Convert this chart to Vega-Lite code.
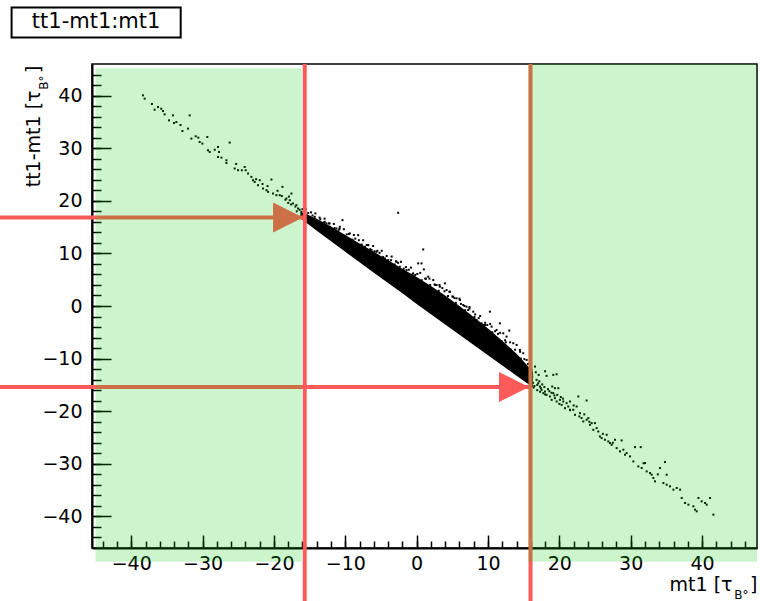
{
 "$schema": "https://vega.github.io/schema/vega-lite/v6.json",
 "width": 665,
 "height": 484,
 "autosize": {"type": "none"},
 "padding": {"left": 92, "top": 64, "right": 3, "bottom": 53},
 "background": "white",
 "config": {
  "view": {"stroke": "black", "strokeWidth": 1.5},
  "axis": {"grid": false, "labelFont": "DejaVu Sans", "labelFontSize": 19, "labelColor": "black", "titleFont": "DejaVu Sans", "titleFontWeight": "normal", "titleColor": "black", "titleFontSize": 19, "labelFlush": false, "labelOverlap": false, "tickColor": "black", "domainColor": "black"}
 },
 "datasets": {
  "core": [
   {"x": -16.3, "lo": 16.7, "hi": 17.9}, {"x": -15, "lo": 15.35, "hi": 17.2}, {"x": -14, "lo": 14.3, "hi": 16.6},
   {"x": -12, "lo": 12.3, "hi": 15.1}, {"x": -10, "lo": 10.3, "hi": 13.5}, {"x": -8, "lo": 8.3, "hi": 11.9},
   {"x": -6, "lo": 6.3, "hi": 10.3}, {"x": -4, "lo": 4.35, "hi": 8.7}, {"x": -2, "lo": 2.4, "hi": 7.1},
   {"x": 0, "lo": 0.4, "hi": 5.5}, {"x": 2, "lo": -1.55, "hi": 3.8}, {"x": 4, "lo": -3.5, "hi": 2.0},
   {"x": 6, "lo": -5.45, "hi": 0.0}, {"x": 8, "lo": -7.4, "hi": -2.1}, {"x": 10, "lo": -9.35, "hi": -4.3},
   {"x": 12, "lo": -11.3, "hi": -6.6}, {"x": 14, "lo": -13.25, "hi": -9.1}, {"x": 15.3, "lo": -14.5, "hi": -11.0},
   {"x": 16.3, "lo": -15.45, "hi": -12.5}
  ],
  "dots": [
   {"x": -38.36, "y": 40.04}, {"x": -38.12, "y": 39.41}, {"x": -36.72, "y": 37.32}, {"x": -36.25, "y": 37.82}, {"x": -35.55, "y": 37.06}, {"x": -35.32, "y": 36.43}, {"x": -34.71, "y": 35.29}, {"x": -34.15, "y": 36.24}, {"x": -34.01, "y": 34.78}, {"x": -33.68, "y": 34.97}, {"x": -31.81, "y": 36.24}, {"x": -32.83, "y": 33.26}, {"x": -32.05, "y": 33.72}, {"x": -31.57, "y": 31.82}, {"x": -30.97, "y": 32.26}, {"x": -30.41, "y": 31.18}, {"x": -30.03, "y": 30.87}, {"x": -29.24, "y": 29.6}, {"x": -29.34, "y": 32.13}, {"x": -29.0, "y": 29.28}, {"x": -27.84, "y": 30.23}, {"x": -27.7, "y": 29.28}, {"x": -27.84, "y": 28.33}, {"x": -27.36, "y": 28.21}, {"x": -26.66, "y": 27.7}, {"x": -26.2, "y": 31.06}, {"x": -26.66, "y": 27.19}, {"x": -25.5, "y": 26.13}, {"x": -25.03, "y": 25.81}, {"x": -24.1, "y": 26.43}, {"x": -23.96, "y": 25.81}, {"x": -23.63, "y": 25.18}, {"x": -23.16, "y": 24.54}, {"x": -22.93, "y": 23.91}, {"x": -22.7, "y": 23.59}, {"x": -21.99, "y": 23.91}, {"x": -22.23, "y": 22.96}, {"x": -21.53, "y": 22.33}, {"x": -21.05, "y": 22.01}, {"x": -20.35, "y": 24.04}, {"x": -20.82, "y": 21.7}, {"x": -20.13, "y": 21.38}, {"x": -19.66, "y": 21.07}, {"x": -19.19, "y": 21.07}, {"x": -18.81, "y": 22.64}, {"x": -18.25, "y": 20.43}, {"x": -17.78, "y": 20.11}, {"x": -17.55, "y": 21.38}, {"x": -17.32, "y": 19.49}, {"x": -16.85, "y": 19.17}, {"x": -16.62, "y": 18.54}, {"x": -16.15, "y": 17.91},
   {"x": -19.5, "y": 21.9}, {"x": -18.9, "y": 20.9}, {"x": -18.4, "y": 20.2}, {"x": -17.9, "y": 20.8}, {"x": -17.0, "y": 18.9}, {"x": -16.4, "y": 18.3}, {"x": -16.8, "y": 18.0}, {"x": -17.6, "y": 19.3}, {"x": -18.0, "y": 19.6}, {"x": -20.9, "y": 22.8}, {"x": -21.6, "y": 23.2}, {"x": -22.5, "y": 24.1}, {"x": -24.5, "y": 25.8}, {"x": -25.3, "y": 27.0}, {"x": -28.3, "y": 29.7}, {"x": -30.6, "y": 32.0}, {"x": -33.1, "y": 34.4}, {"x": -35.8, "y": 37.5}, {"x": -37.1, "y": 38.4},
   {"x": -15.45, "y": 17.27}, {"x": -14.98, "y": 16.64}, {"x": -14.28, "y": 16.95}, {"x": -14.04, "y": 16.0}, {"x": -12.88, "y": 16.0}, {"x": -12.64, "y": 15.69}, {"x": -12.17, "y": 15.05}, {"x": -11.24, "y": 14.74}, {"x": -10.77, "y": 15.05}, {"x": -10.4, "y": 16.32}, {"x": -9.37, "y": 13.79}, {"x": -8.2, "y": 13.47}, {"x": -7.26, "y": 11.26}, {"x": -6.8, "y": 11.57}, {"x": -6.33, "y": 10.63}, {"x": -5.63, "y": 10.31}, {"x": -4.46, "y": 9.05}, {"x": -3.99, "y": 8.73}, {"x": -2.82, "y": 8.41}, {"x": -2.59, "y": 17.71}, {"x": -2.36, "y": 7.46}, {"x": -1.42, "y": 6.83}, {"x": -0.49, "y": 6.2}, {"x": 0.21, "y": 8.1}, {"x": 0.68, "y": 8.1}, {"x": 0.92, "y": 10.75}, {"x": 1.01, "y": 6.96}, {"x": 1.62, "y": 5.57}, {"x": 2.32, "y": 4.93}, {"x": 2.79, "y": 3.98}, {"x": 3.25, "y": 3.67}, {"x": 3.96, "y": 4.3}, {"x": 4.19, "y": 3.04}, {"x": 4.66, "y": 2.72}, {"x": 5.12, "y": 1.77}, {"x": 5.59, "y": 1.46}, {"x": 6.06, "y": 1.14}, {"x": 6.53, "y": 0.19}, {"x": 6.99, "y": -0.13}, {"x": 7.23, "y": -0.76}, {"x": 7.93, "y": -1.08}, {"x": 8.4, "y": -2.66}, {"x": 9.1, "y": -3.29}, {"x": 9.57, "y": -3.61}, {"x": 10.27, "y": -1.08}, {"x": 10.5, "y": -3.92}, {"x": 11.2, "y": -4.55}, {"x": 11.67, "y": -3.29}, {"x": 12.14, "y": -5.19}, {"x": 12.98, "y": -4.68}, {"x": 12.6, "y": -5.82}, {"x": 13.54, "y": -7.08}, {"x": 14.01, "y": -7.4}, {"x": 14.47, "y": -8.35}, {"x": 14.94, "y": -8.98}, {"x": 15.41, "y": -10.25},
   {"x": -15.8, "y": 18.0}, {"x": -15.2, "y": 17.7}, {"x": -14.6, "y": 17.2}, {"x": -13.5, "y": 16.5}, {"x": -13.0, "y": 15.9}, {"x": -12.3, "y": 15.7}, {"x": -11.5, "y": 14.8}, {"x": -10.9, "y": 14.5}, {"x": -9.8, "y": 13.6}, {"x": -9.0, "y": 12.6}, {"x": -8.6, "y": 12.8}, {"x": -7.7, "y": 11.7}, {"x": -7.0, "y": 11.6}, {"x": -6.5, "y": 10.8}, {"x": -5.9, "y": 10.4}, {"x": -5.2, "y": 10.1}, {"x": -4.7, "y": 9.3}, {"x": -3.6, "y": 8.7}, {"x": -3.1, "y": 7.9}, {"x": -2.6, "y": 8.2}, {"x": -1.8, "y": 7.1}, {"x": -1.1, "y": 6.9}, {"x": -0.6, "y": 6.0}, {"x": 0.1, "y": 6.1}, {"x": 0.7, "y": 4.9}, {"x": 1.3, "y": 5.2}, {"x": 1.9, "y": 4.0}, {"x": 2.6, "y": 4.0}, {"x": 3.1, "y": 2.9}, {"x": 3.6, "y": 3.4}, {"x": 4.4, "y": 1.9}, {"x": 5.0, "y": 1.8}, {"x": 5.5, "y": 0.6}, {"x": 6.2, "y": 0.4}, {"x": 6.8, "y": -0.8}, {"x": 7.4, "y": -0.5}, {"x": 8.1, "y": -2.1}, {"x": 8.7, "y": -2.3}, {"x": 9.3, "y": -3.6}, {"x": 9.9, "y": -3.6}, {"x": 10.6, "y": -5.0}, {"x": 11.4, "y": -5.3}, {"x": 11.9, "y": -6.7}, {"x": 12.5, "y": -6.9}, {"x": 13.2, "y": -8.3}, {"x": 13.8, "y": -9.4}, {"x": 14.6, "y": -10.0}, {"x": 15.2, "y": -11.3}, {"x": 15.7, "y": -12.3}, {"x": 16.0, "y": -13.4},
   {"x": -16.0, "y": 18.4}, {"x": -15.5, "y": 18.4}, {"x": -14.8, "y": 17.8}, {"x": -14.2, "y": 17.6}, {"x": -13.6, "y": 16.8}, {"x": -12.9, "y": 16.6}, {"x": -12.2, "y": 15.7}, {"x": -11.6, "y": 15.6}, {"x": -10.8, "y": 14.7}, {"x": -10.2, "y": 14.6}, {"x": -9.5, "y": 13.7}, {"x": -8.8, "y": 13.5}, {"x": -8.1, "y": 12.5}, {"x": -7.5, "y": 12.5}, {"x": -6.8, "y": 11.6}, {"x": -6.1, "y": 11.4}, {"x": -5.5, "y": 10.5}, {"x": -4.9, "y": 10.5}, {"x": -4.2, "y": 9.5}, {"x": -3.5, "y": 9.4}, {"x": -2.9, "y": 8.5}, {"x": -2.2, "y": 8.4}, {"x": -1.5, "y": 7.4}, {"x": -0.8, "y": 7.3}, {"x": -0.2, "y": 5.9}, {"x": 0.5, "y": 6.3}, {"x": 1.2, "y": 5.2}, {"x": 1.8, "y": 5.2}, {"x": 2.5, "y": 4.1}, {"x": 3.2, "y": 4.0}, {"x": 3.9, "y": 2.8}, {"x": 4.6, "y": 2.7}, {"x": 5.3, "y": 1.5}, {"x": 6.0, "y": 1.4}, {"x": 6.7, "y": 0.0}, {"x": 7.4, "y": -0.2}, {"x": 8.2, "y": -1.6}, {"x": 8.9, "y": -1.9}, {"x": 9.6, "y": -3.2}, {"x": 10.3, "y": -3.4}, {"x": 11.0, "y": -4.8}, {"x": 11.7, "y": -5.1}, {"x": 12.4, "y": -6.5}, {"x": 13.1, "y": -6.9}, {"x": 13.8, "y": -8.3}, {"x": 14.5, "y": -8.7}, {"x": 15.1, "y": -10.1}, {"x": 15.6, "y": -11.0}, {"x": 16.1, "y": -12.1},
   {"x": 16.58, "y": -11.51}, {"x": 18.21, "y": -13.28}, {"x": 19.15, "y": -13.09}, {"x": 19.62, "y": -12.97}, {"x": 16.81, "y": -14.04}, {"x": 17.04, "y": -14.67}, {"x": 17.28, "y": -15.31}, {"x": 17.51, "y": -15.94}, {"x": 17.98, "y": -16.26}, {"x": 17.75, "y": -16.57}, {"x": 18.21, "y": -16.89}, {"x": 18.68, "y": -17.2}, {"x": 19.15, "y": -16.57}, {"x": 19.38, "y": -15.62}, {"x": 19.85, "y": -15.62}, {"x": 18.92, "y": -17.84}, {"x": 19.38, "y": -17.52}, {"x": 19.62, "y": -18.15}, {"x": 20.08, "y": -17.84}, {"x": 20.55, "y": -18.15}, {"x": 20.32, "y": -18.79}, {"x": 21.02, "y": -18.47}, {"x": 21.49, "y": -18.15}, {"x": 20.79, "y": -19.42}, {"x": 21.25, "y": -19.1}, {"x": 21.49, "y": -19.73}, {"x": 21.95, "y": -19.73}, {"x": 22.19, "y": -20.68}, {"x": 22.42, "y": -19.1}, {"x": 22.66, "y": -17.2}, {"x": 23.82, "y": -17.96}, {"x": 22.89, "y": -20.37}, {"x": 23.12, "y": -21.31}, {"x": 23.36, "y": -21.95}, {"x": 23.82, "y": -21.63}, {"x": 24.06, "y": -21.31}, {"x": 24.29, "y": -22.58}, {"x": 24.53, "y": -22.26}, {"x": 24.99, "y": -22.26}, {"x": 25.23, "y": -23.21}, {"x": 24.76, "y": -23.53}, {"x": 25.46, "y": -23.85}, {"x": 25.69, "y": -24.79}, {"x": 25.93, "y": -25.11}, {"x": 26.4, "y": -25.43}, {"x": 26.63, "y": -24.48}, {"x": 26.86, "y": -25.74}, {"x": 27.1, "y": -26.06}, {"x": 27.33, "y": -26.38}, {"x": 27.8, "y": -25.43}, {"x": 28.03, "y": -27.01}, {"x": 28.73, "y": -25.55}, {"x": 28.5, "y": -27.64}, {"x": 28.97, "y": -27.32}, {"x": 29.2, "y": -28.27}, {"x": 29.43, "y": -27.96}, {"x": 29.9, "y": -28.59}, {"x": 30.6, "y": -26.82}, {"x": 31.4, "y": -26.82}, {"x": 30.37, "y": -29.54}, {"x": 31.07, "y": -30.49}, {"x": 31.54, "y": -30.8}, {"x": 32.01, "y": -29.85}, {"x": 32.24, "y": -31.44}, {"x": 32.71, "y": -31.75}, {"x": 32.94, "y": -32.07}, {"x": 33.17, "y": -32.7}, {"x": 33.41, "y": -33.33}, {"x": 34.11, "y": -30.8}, {"x": 34.81, "y": -29.66}, {"x": 35.04, "y": -32.07}, {"x": 34.58, "y": -33.65}, {"x": 35.04, "y": -33.97}, {"x": 35.51, "y": -34.28}, {"x": 35.98, "y": -34.91}, {"x": 36.45, "y": -34.6}, {"x": 36.92, "y": -34.91}, {"x": 37.15, "y": -36.5}, {"x": 37.62, "y": -37.44}, {"x": 38.08, "y": -37.76}, {"x": 38.78, "y": -38.08}, {"x": 39.02, "y": -38.71}, {"x": 39.25, "y": -39.03}, {"x": 39.49, "y": -36.5}, {"x": 39.95, "y": -37.13}, {"x": 40.42, "y": -37.44}, {"x": 40.65, "y": -37.76}, {"x": 41.12, "y": -36.5}, {"x": 41.59, "y": -39.66},
   {"x": 16.3, "y": -14.6}, {"x": 16.5, "y": -15.2}, {"x": 16.9, "y": -15.0}, {"x": 17.2, "y": -14.3}, {"x": 17.4, "y": -15.6}, {"x": 17.6, "y": -14.9}, {"x": 17.9, "y": -15.4}, {"x": 18.0, "y": -16.8}, {"x": 18.4, "y": -15.8}, {"x": 18.6, "y": -16.2}, {"x": 18.9, "y": -16.5}, {"x": 19.3, "y": -17.0}, {"x": 19.7, "y": -16.9}, {"x": 20.2, "y": -17.3}, {"x": 20.5, "y": -17.6}, {"x": 16.2, "y": -13.4}, {"x": 16.7, "y": -12.6}, {"x": 17.1, "y": -13.1}, {"x": 18.0, "y": -12.4}, {"x": 16.4, "y": -15.5}, {"x": 16.9, "y": -16.0}, {"x": 17.3, "y": -16.3}, {"x": 19.0, "y": -15.3}, {"x": 20.0, "y": -18.6}, {"x": 21.5, "y": -19.8}, {"x": 22.0, "y": -18.9}, {"x": 22.8, "y": -21.0}, {"x": 23.5, "y": -20.6}, {"x": 24.2, "y": -22.0}, {"x": 26.1, "y": -24.3}, {"x": 27.5, "y": -26.0}, {"x": 31.8, "y": -29.9}, {"x": 33.8, "y": -32.0}
  ],
  "cuts": [{"x": -15.68, "ya": 46, "yb": -56.1}, {"x": 15.96, "ya": 46, "yb": -56.1}],
  "arrows": [{"x0": -58.4, "tip": -15.92, "y": 16.8}, {"x0": -58.4, "tip": 15.75, "y": -15.4}],
  "bands": [{"x1": -45.0, "x2": -16.1, "y1": 45.2, "y2": -48.6}, {"x1": 15.6, "x2": 47.7, "y1": 46, "y2": -48.6}],
  "box": [{"label": "tt1-mt1:mt1", "x1": -56.77, "x2": -33.07, "y1": 56.74, "y2": 51.04, "xc": -44.92, "yc": 53.9}]
 },
 "layer": [
  {
   "data": {"name": "core"},
   "mark": {"type": "area", "orient": "vertical", "color": "black", "opacity": 1},
   "encoding": {
    "x": {"field": "x", "type": "quantitative", "scale": {"domain": [-45.5, 47.7], "nice": false, "zero": false},
          "axis": {"orient": "bottom", "values": [-40, -30, -20, -10, 0, 10, 20, 30, 40], "ticks": false, "domain": true, "domainWidth": 2, "labelPadding": 6, "title": "mt1 [τ", "titleX": 640, "titleY": 42, "titleAlign": "right", "titleBaseline": "alphabetic", "titleAnchor": null}},
    "y": {"field": "lo", "type": "quantitative", "scale": {"domain": [-46, 46], "nice": false, "zero": false},
          "axis": {"orient": "left", "values": [-40, -30, -20, -10, 0, 10, 20, 30, 40], "ticks": false, "domain": true, "domainWidth": 2, "labelPadding": 10, "title": "tt1-mt1 [τ", "titleX": -53, "titleY": 26, "titleAngle": 270, "titleAlign": "right", "titleBaseline": "alphabetic", "titleAnchor": null}},
    "y2": {"field": "hi"}
   }
  },
  {
   "data": {"name": "dots"},
   "mark": {"type": "point", "shape": "square", "size": 4, "filled": true, "color": "black", "opacity": 1},
   "encoding": {
    "x": {"field": "x", "type": "quantitative", "scale": {"domain": [-45.5, 47.7], "nice": false, "zero": false},
          "axis": {"orient": "bottom", "values": [-40, -30, -20, -10, 0, 10, 20, 30, 40], "labels": false, "domain": false, "ticks": true, "tickSize": -13, "tickWidth": 1.5, "title": null}},
    "y": {"field": "y", "type": "quantitative", "scale": {"domain": [-46, 46], "nice": false, "zero": false},
          "axis": {"orient": "left", "values": [-40, -30, -20, -10, 0, 10, 20, 30, 40], "labels": false, "domain": false, "ticks": true, "tickSize": -19, "tickWidth": 1.5, "title": null}}
   }
  },
  {
   "data": {"name": "cuts"},
   "mark": {"type": "rule", "color": "#ff5a5a", "strokeWidth": 4, "clip": false},
   "encoding": {
    "x": {"field": "x", "type": "quantitative", "scale": {"domain": [-45.5, 47.7], "nice": false, "zero": false},
          "axis": {"orient": "bottom", "values": [-44, -42, -40, -38, -36, -34, -32, -30, -28, -26, -24, -22, -20, -18, -16, -14, -12, -10, -8, -6, -4, -2, 0, 2, 4, 6, 8, 10, 12, 14, 16, 18, 20, 22, 24, 26, 28, 30, 32, 34, 36, 38, 40, 42, 44, 46], "labels": false, "domain": false, "ticks": true, "tickSize": -7, "tickWidth": 1.5, "title": "B°", "titleFontSize": 12, "titleX": 656, "titleY": 50, "titleAlign": "right", "titleBaseline": "alphabetic", "titleAnchor": null}},
    "y": {"field": "ya", "type": "quantitative", "scale": {"domain": [-46, 46], "nice": false, "zero": false},
          "axis": {"orient": "left", "values": [-44, -42, -40, -38, -36, -34, -32, -30, -28, -26, -24, -22, -20, -18, -16, -14, -12, -10, -8, -6, -4, -2, 0, 2, 4, 6, 8, 10, 12, 14, 16, 18, 20, 22, 24, 26, 28, 30, 32, 34, 36, 38, 40, 42, 44], "labels": false, "domain": false, "ticks": true, "tickSize": -9, "tickWidth": 1.5, "title": "B°", "titleFontSize": 12, "titleX": -45, "titleY": 11, "titleAngle": 270, "titleAlign": "right", "titleBaseline": "alphabetic", "titleAnchor": null}},
    "y2": {"field": "yb"}
   }
  },
  {
   "data": {"name": "arrows"},
   "mark": {"type": "rule", "color": "#ff5a5a", "strokeWidth": 4, "clip": false},
   "encoding": {
    "x": {"field": "x0", "type": "quantitative", "scale": {"domain": [-45.5, 47.7], "nice": false, "zero": false},
          "axis": {"orient": "bottom", "values": [], "labels": false, "ticks": false, "domain": false, "title": "]", "titleX": 665, "titleY": 42, "titleAlign": "right", "titleBaseline": "alphabetic", "titleAnchor": null}},
    "x2": {"field": "tip"},
    "y": {"field": "y", "type": "quantitative", "scale": {"domain": [-46, 46], "nice": false, "zero": false},
          "axis": {"orient": "left", "values": [], "labels": false, "ticks": false, "domain": false, "title": "]", "titleX": -53, "titleY": 1, "titleAngle": 270, "titleAlign": "right", "titleBaseline": "alphabetic", "titleAnchor": null}}
   }
  },
  {
   "data": {"name": "arrows"},
   "mark": {"type": "point", "shape": "M -2 -1 L 0 0 L -2 1 Z", "size": 900, "filled": true, "color": "#ff5a5a", "opacity": 1, "clip": false},
   "encoding": {
    "x": {"field": "tip", "type": "quantitative", "scale": {"domain": [-45.5, 47.7], "nice": false, "zero": false}, "axis": null},
    "y": {"field": "y", "type": "quantitative", "scale": {"domain": [-46, 46], "nice": false, "zero": false}, "axis": null}
   }
  },
  {
   "data": {"name": "bands"},
   "mark": {"type": "rect", "color": "#00cc00", "opacity": 0.196, "clip": false},
   "encoding": {
    "x": {"field": "x1", "type": "quantitative", "scale": {"domain": [-45.5, 47.7], "nice": false, "zero": false}, "axis": null},
    "x2": {"field": "x2"},
    "y": {"field": "y1", "type": "quantitative", "scale": {"domain": [-46, 46], "nice": false, "zero": false}, "axis": null},
    "y2": {"field": "y2"}
   }
  },
  {
   "data": {"name": "box"},
   "mark": {"type": "rect", "fill": "white", "stroke": "black", "strokeWidth": 2, "clip": false},
   "encoding": {
    "x": {"field": "x1", "type": "quantitative", "scale": {"domain": [-45.5, 47.7], "nice": false, "zero": false}, "axis": null},
    "x2": {"field": "x2"},
    "y": {"field": "y1", "type": "quantitative", "scale": {"domain": [-46, 46], "nice": false, "zero": false}, "axis": null},
    "y2": {"field": "y2"}
   }
  },
  {
   "data": {"name": "box"},
   "mark": {"type": "text", "font": "DejaVu Sans", "fontSize": 21, "align": "center", "baseline": "middle", "color": "black", "clip": false},
   "encoding": {
    "x": {"field": "xc", "type": "quantitative", "scale": {"domain": [-45.5, 47.7], "nice": false, "zero": false}, "axis": null},
    "y": {"field": "yc", "type": "quantitative", "scale": {"domain": [-46, 46], "nice": false, "zero": false}, "axis": null},
    "text": {"field": "label"}
   }
  }
 ],
 "resolve": {"axis": {"x": "independent", "y": "independent"}}
}
